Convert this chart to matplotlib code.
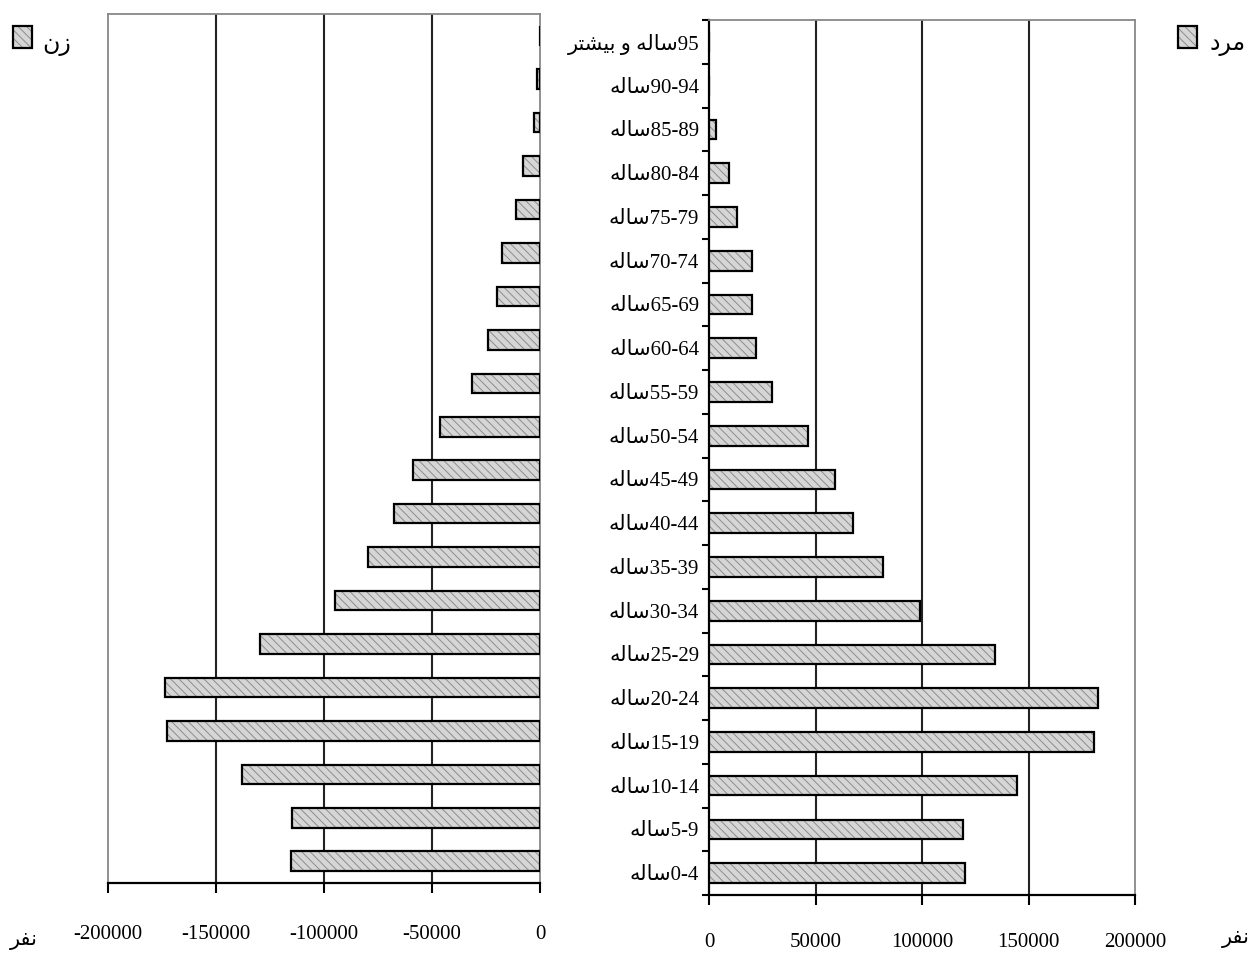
import matplotlib
matplotlib.use("Agg")
import matplotlib.pyplot as plt
from matplotlib.patches import Rectangle

# age groups, bottom to top
age_groups = ["0-4", "5-9", "10-14", "15-19", "20-24", "25-29", "30-34", "35-39",
              "40-44", "45-49", "50-54", "55-59", "60-64", "65-69", "70-74",
              "75-79", "80-84", "85-89", "90-94", "95"]
women = [115300, 114700, 138100, 172800, 173600, 129600, 94900, 79600,
         67500, 59000, 46500, 31500, 24000, 20000, 17700, 10900, 8000,
         2800, 1500, 0]
men = [120000, 119100, 144500, 180800, 182700, 134500, 99000, 81600,
       67500, 59000, 46400, 29500, 22000, 20000, 20000, 13000, 9400,
       3100, 0, 0]
ticks_left = [-200000, -150000, -100000, -50000, 0]
ticks_right = [0, 50000, 100000, 150000, 200000]

# persian words, pre-shaped in visual order (matplotlib has no bidi)
SALEH = "\ufeea\ufedf\ufe8e\ufeb3"
OVER = "\ufeae\ufe98\ufeb8\ufef4\ufe91 \ufeed " + SALEH
MARD = "\ufea9\ufeae\ufee3"
ZAN = "\ufee5\ufeaf"
NAFAR = "\ufeae\ufed4\ufee7"

labels = [SALEH + g for g in age_groups[:-1]] + [OVER + age_groups[-1]]

SERIF = ["Liberation Serif", "DejaVu Sans"]
FACE = "#d6d6d6"
HATCH_COL = "#8c8c8c"
plt.rcParams["hatch.linewidth"] = 0.7

fig = plt.figure(figsize=(12.5, 9.55), dpi=100)
ax_l = fig.add_axes([0.0864, 0.0754, 0.3456, 0.9099])
ax_r = fig.add_axes([0.5672, 0.0628, 0.3408, 0.9162])
pos = list(range(len(age_groups)))


def draw_bars(ax, vals):
    ax.barh(pos, vals, height=0.45, color=FACE, hatch="\\\\\\\\",
            edgecolor=HATCH_COL, linewidth=0, zorder=3)
    ax.barh(pos, vals, height=0.45, fill=False, edgecolor="black",
            linewidth=1.6, zorder=4)


def style(ax, xticks, pad):
    ax.set_ylim(-0.5, len(age_groups) - 0.5)
    ax.set_xticks(xticks)
    ax.set_xticklabels([str(t) for t in xticks], family=SERIF, fontsize=15)
    ax.tick_params(axis="x", direction="out", length=7, width=1.5,
                   pad=pad, colors="black")
    for x in xticks[1:-1]:
        ax.axvline(x, color="#222222", lw=1.5, zorder=1)
    for s in ["top", "left", "right"]:
        ax.spines[s].set_color("#888888")
        ax.spines[s].set_linewidth(1.3)
    ax.spines["bottom"].set_color("black")
    ax.spines["bottom"].set_linewidth(1.6)


# women (left)
draw_bars(ax_l, [-v for v in women])
ax_l.set_xlim(-200000, 0)
style(ax_l, ticks_left, 23)
ax_l.set_yticks([])

# men (right)
draw_bars(ax_r, men)
ax_r.set_xlim(0, 200000)
style(ax_r, ticks_right, 20)
ax_r.spines["left"].set_color("black")
ax_r.spines["left"].set_linewidth(1.6)
ax_r.set_yticks(pos)
ax_r.set_yticklabels(labels, family=SERIF, fontsize=15)
ax_r.set_yticks([p - 0.5 for p in pos] + [len(pos) - 0.5], minor=True)
ax_r.tick_params(axis="y", which="major", length=0, pad=7)
ax_r.tick_params(axis="y", which="minor", length=5, width=1.5, direction="out")

# legends
for x0, txt, tx in [(13, ZAN, 42), (1178, MARD, 1210)]:
    y0 = 955 - 48
    fig.patches.append(Rectangle((x0 / 1250, y0 / 955), 19 / 1250, 22 / 955,
                                 transform=fig.transFigure, facecolor=FACE,
                                 hatch="\\\\\\\\", edgecolor=HATCH_COL, lw=0))
    fig.patches.append(Rectangle((x0 / 1250, y0 / 955), 19 / 1250, 22 / 955,
                                 transform=fig.transFigure, fill=False,
                                 edgecolor="black", lw=1.6))
    fig.text(tx / 1250, 1 - 44 / 955, txt, fontsize=17, family="DejaVu Sans",
             ha="left", va="center")

# unit labels
fig.text(10 / 1250, 1 - 940 / 955, NAFAR, fontsize=15, family="DejaVu Sans",
         ha="left", va="center")
fig.text(1222 / 1250, 1 - 938 / 955, NAFAR, fontsize=15, family="DejaVu Sans",
         ha="left", va="center")

fig.savefig("out.png", dpi=100, facecolor="white")
